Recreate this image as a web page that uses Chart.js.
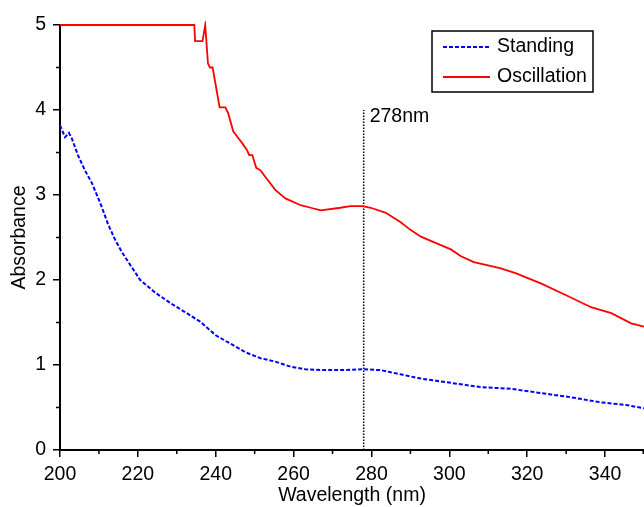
<!DOCTYPE html>
<html>
<head>
    <title>Absorbance</title>
    <script src="https://cdn.jsdelivr.net/npm/chart.js"></script>
    <style>
        body { margin: 0; background: #fff; }
    </style>
</head>
<body>
    <canvas id="myChart" width="644" height="507"></canvas>
    <script>
        // spectra
        const standingWl = [200, 201.3, 202.3, 203, 204.6, 206.4, 208.2, 210.3, 212.4, 214.2, 216, 220.6, 224.5, 228.3, 232.2, 236, 240, 243.8, 247.6, 251.5, 255.3, 259.2, 263, 267, 272, 277.7, 282.4, 287.5, 292.7, 300.4, 308, 315.8, 323.5, 331.3, 339, 345.4, 350];
        const standingAbs = [3.82, 3.68, 3.73, 3.67, 3.47, 3.29, 3.14, 2.91, 2.65, 2.47, 2.32, 2.0, 1.85, 1.73, 1.62, 1.51, 1.35, 1.25, 1.15, 1.08, 1.04, 0.98, 0.95, 0.94, 0.94, 0.95, 0.94, 0.89, 0.84, 0.79, 0.74, 0.72, 0.67, 0.62, 0.56, 0.53, 0.49];

        const oscWl = [200, 234.5, 234.7, 236.6, 237.3, 238, 238.5, 239.2, 241, 242.5, 243.2, 244.5, 245.3, 246.8, 248, 248.6, 249.4, 250.4, 251.5, 253.3, 255.3, 257.9, 261.8, 264.4, 267, 272, 274.6, 277.7, 279.8, 283.7, 287.5, 290, 292.7, 297.8, 300.4, 303, 306.3, 313, 317, 323.5, 330, 336.4, 341.6, 346.7, 350];
        const oscAbs = [5, 5, 4.81, 4.81, 5, 4.55, 4.5, 4.5, 4.03, 4.03, 3.96, 3.75, 3.70, 3.61, 3.53, 3.47, 3.47, 3.32, 3.29, 3.18, 3.06, 2.96, 2.88, 2.85, 2.82, 2.85, 2.87, 2.87, 2.85, 2.79, 2.68, 2.59, 2.51, 2.41, 2.36, 2.28, 2.21, 2.14, 2.08, 1.96, 1.82, 1.68, 1.61, 1.49, 1.45];

        // axis ticks
        const xTicks = [200, 220, 240, 260, 280, 300, 320, 340];
        const xMinor = [210, 230, 250, 270, 290, 310, 330, 350];
        const yMinor = [0.5, 1.5, 2.5, 3.5, 4.5];

        // marker line
        const peakWl = 278;
        const peakTop = 4;
        const peakLabel = '278nm';

        const seriesNames = ['Standing', 'Oscillation'];

        const FONT = '"Liberation Sans", Arial, Helvetica, sans-serif';
        const FSIZE = 19.5;
        const toPoints = (xs, ys) => xs.map((x, i) => ({ x: x, y: ys[i] }));

        // minor ticks, legend box and marker label
        const extras = {
            id: 'extras',
            afterDraw(chart) {
                const ctx = chart.ctx;
                const xs = chart.scales.x, ys = chart.scales.y;
                const area = chart.chartArea;
                ctx.save();
                ctx.strokeStyle = '#000';
                ctx.lineWidth = 1.5;
                ctx.beginPath();
                xMinor.forEach(v => {
                    const px = Math.min(xs.getPixelForValue(v), area.right - 0.75);
                    ctx.moveTo(px, area.bottom);
                    ctx.lineTo(px, area.bottom + 4);
                });
                yMinor.forEach(v => {
                    const py = ys.getPixelForValue(v);
                    ctx.moveTo(area.left, py);
                    ctx.lineTo(area.left - 4, py);
                });
                ctx.stroke();

                // marker label
                ctx.fillStyle = '#000';
                ctx.font = FSIZE + 'px ' + FONT;
                ctx.textBaseline = 'middle';
                ctx.textAlign = 'left';
                ctx.fillText(peakLabel, xs.getPixelForValue(peakWl) + 6, ys.getPixelForValue(peakTop) + 7);

                // legend
                const bx = 432, by = 31, bw = 161, bh = 61;
                ctx.lineWidth = 1.5;
                ctx.strokeRect(bx, by, bw, bh);
                const rows = [
                    { name: seriesNames[0], color: '#0000ff', dash: [4, 2] },
                    { name: seriesNames[1], color: '#ff0000', dash: [] }
                ];
                rows.forEach((r, i) => {
                    const y = by + 16 + i * 30;
                    ctx.strokeStyle = r.color;
                    ctx.lineWidth = 2;
                    ctx.setLineDash(r.dash);
                    ctx.beginPath();
                    ctx.moveTo(bx + 11, y);
                    ctx.lineTo(bx + 58, y);
                    ctx.stroke();
                    ctx.setLineDash([]);
                    ctx.fillText(r.name, bx + 65, y);
                });
                ctx.restore();
            }
        };

        const ctx = document.getElementById('myChart').getContext('2d');
        new Chart(ctx, {
            type: 'line',
            data: {
                datasets: [{
                    label: seriesNames[0],
                    data: toPoints(standingWl, standingAbs),
                    borderColor: '#0000ff',
                    borderWidth: 2,
                    borderDash: [4, 2],
                    pointRadius: 0,
                    tension: 0,
                    clip: 4
                }, {
                    label: seriesNames[1],
                    data: toPoints(oscWl, oscAbs),
                    borderColor: '#ff0000',
                    borderWidth: 1.8,
                    pointRadius: 0,
                    tension: 0,
                    clip: 4
                }, {
                    label: 'marker',
                    data: [{ x: peakWl, y: 0 }, { x: peakWl, y: peakTop }],
                    borderColor: '#000',
                    borderWidth: 1.5,
                    borderDash: [1.5, 1.5],
                    pointRadius: 0
                }]
            },
            options: {
                responsive: false,
                animation: false,
                layout: { padding: { top: 25, right: 0, left: 8, bottom: 0 } },
                plugins: {
                    legend: { display: false },
                    tooltip: { enabled: false }
                },
                scales: {
                    x: {
                        type: 'linear',
                        min: 200,
                        max: 350,
                        afterBuildTicks: s => { s.ticks = xTicks.map(v => ({ value: v })); },
                        afterFit: s => { s.height = 57; s.paddingRight = 0; },
                        border: { display: true, color: '#000', width: 2 },
                        grid: { drawOnChartArea: false, drawTicks: true, tickLength: 7, color: '#000', lineWidth: 1.5 },
                        ticks: {
                            autoSkip: false,
                            color: '#000',
                            font: { family: FONT, size: FSIZE },
                            padding: 6,
                            maxRotation: 0
                        },
                        title: {
                            display: true,
                            text: 'Wavelength (nm)',
                            color: '#000',
                            font: { family: FONT, size: FSIZE },
                            padding: { top: 0, bottom: 0 }
                        }
                    },
                    y: {
                        min: 0,
                        max: 5,
                        afterFit: s => { s.width = 52; },
                        border: { display: true, color: '#000', width: 2 },
                        grid: { drawOnChartArea: false, drawTicks: true, tickLength: 7, color: '#000', lineWidth: 1.5 },
                        ticks: {
                            stepSize: 1,
                            color: '#000',
                            font: { family: FONT, size: FSIZE },
                            padding: 7
                        },
                        title: {
                            display: true,
                            text: 'Absorbance',
                            color: '#000',
                            font: { family: FONT, size: FSIZE },
                            padding: { top: 0, bottom: 0 }
                        }
                    }
                }
            },
            plugins: [extras]
        });
    </script>
</body>
</html>
